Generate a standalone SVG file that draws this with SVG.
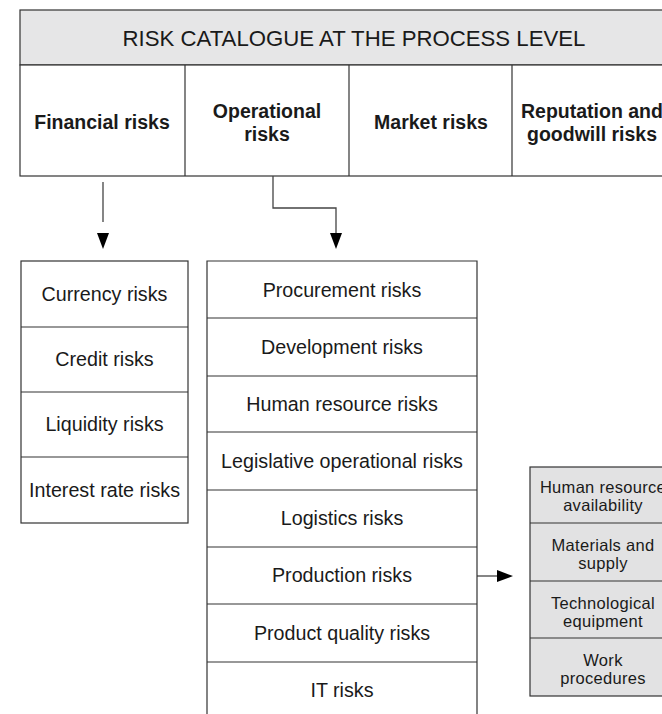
<svg xmlns="http://www.w3.org/2000/svg" width="662" height="714" viewBox="0 0 662 714">
<style>
.box{stroke:#333;stroke-width:1.2;}
.w{fill:#fff;}
.g{fill:#e6e6e7;}
.g2{fill:#e2e2e3;}
.div{stroke:#333;stroke-width:1.2;fill:none;}
.t{font-family:"Liberation Sans",Arial,sans-serif;fill:#1a1a1a;text-anchor:middle;}
.title{font-size:22.2px;}
.h{font-size:19.5px;font-weight:bold;}
.b{font-size:19.7px;}
.s{font-size:16.5px;letter-spacing:0.3px;}
.con{stroke:#444;stroke-width:1.3;fill:none;}
.head{fill:#000;}
</style>
<g id="header">
<rect class="box g" x="20" y="10" width="660" height="55"/>
<text class="t title" x="354" y="46">RISK CATALOGUE AT THE PROCESS LEVEL</text>
</g>
<g id="categories">
<rect class="box w" x="20" y="65" width="660" height="111"/>
<line class="div" x1="185" y1="65" x2="185" y2="176"/>
<line class="div" x1="349" y1="65" x2="349" y2="176"/>
<line class="div" x1="512" y1="65" x2="512" y2="176"/>
</g>
<g id="financial">
<text class="t h" x="102" y="129">Financial risks</text>
</g>
<g id="operational">
<text class="t h" x="267" y="118">Operational</text>
<text class="t h" x="267" y="141">risks</text>
</g>
<g id="market">
<text class="t h" x="431" y="129">Market risks</text>
</g>
<g id="reputation">
<text class="t h" x="592" y="118">Reputation and</text>
<text class="t h" x="592" y="141">goodwill risks</text>
</g>
<g id="connectors">
<line class="con" x1="103" y1="182" x2="103" y2="222"/>
<polygon class="head" points="97,233 109,233 103,249"/>
<polyline class="con" points="273,176 273,208 336,208 336,234"/>
<polygon class="head" points="330,233 342,233 336,249"/>
<line class="con" x1="477" y1="576" x2="498" y2="576"/>
<polygon class="head" points="497,570 497,582 513,576"/>
</g>
<g id="financial-risks">
<rect class="box w" x="21" y="261" width="167" height="262"/>
<line class="div" x1="21" y1="327" x2="188" y2="327"/>
<line class="div" x1="21" y1="392" x2="188" y2="392"/>
<line class="div" x1="21" y1="457" x2="188" y2="457"/>
<text class="t b" x="104.5" y="301">Currency risks</text>
<text class="t b" x="104.5" y="366">Credit risks</text>
<text class="t b" x="104.5" y="431">Liquidity risks</text>
<text class="t b" x="104.5" y="497">Interest rate risks</text>
</g>
<g id="operational-risks">
<path class="div" d="M207,720 V261 H477 V720"/>
<line class="div" x1="207" y1="318" x2="477" y2="318"/>
<line class="div" x1="207" y1="376" x2="477" y2="376"/>
<line class="div" x1="207" y1="432" x2="477" y2="432"/>
<line class="div" x1="207" y1="490" x2="477" y2="490"/>
<line class="div" x1="207" y1="547" x2="477" y2="547"/>
<line class="div" x1="207" y1="604" x2="477" y2="604"/>
<line class="div" x1="207" y1="662" x2="477" y2="662"/>
<text class="t b" x="342" y="297">Procurement risks</text>
<text class="t b" x="342" y="354">Development risks</text>
<text class="t b" x="342" y="411">Human resource risks</text>
<text class="t b" x="342" y="468">Legislative operational risks</text>
<text class="t b" x="342" y="525">Logistics risks</text>
<text class="t b" x="342" y="582">Production risks</text>
<text class="t b" x="342" y="640">Product quality risks</text>
<text class="t b" x="342" y="697">IT risks</text>
</g>
<g id="production-factors">
<rect class="box g2" x="530" y="467" width="146" height="229"/>
<line class="div" x1="530" y1="523" x2="676" y2="523"/>
<line class="div" x1="530" y1="581" x2="676" y2="581"/>
<line class="div" x1="530" y1="638" x2="676" y2="638"/>
<text class="t s" x="603" y="493">Human resource</text>
<text class="t s" x="603" y="511">availability</text>
<text class="t s" x="603" y="551">Materials and</text>
<text class="t s" x="603" y="569">supply</text>
<text class="t s" x="603" y="609">Technological</text>
<text class="t s" x="603" y="627">equipment</text>
<text class="t s" x="603" y="666">Work</text>
<text class="t s" x="603" y="684">procedures</text>
</g>
</svg>
